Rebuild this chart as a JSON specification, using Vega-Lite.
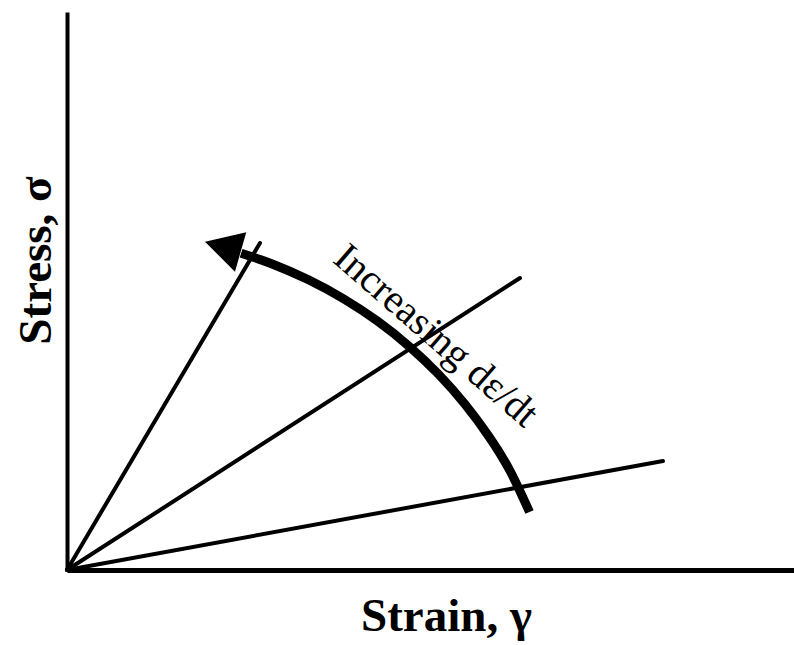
{
  "$schema": "https://vega.github.io/schema/vega-lite/v6.json",
  "width": 727,
  "height": 558,
  "autosize": {"type": "none"},
  "padding": {"left": 67, "top": 12, "right": 0, "bottom": 75},
  "background": "white",
  "config": {"view": {"stroke": null}},
  "datasets": {
    "rays": [
      {"ray": "steep", "step": 0, "x": 0, "y": 0},
      {"ray": "steep", "step": 1, "x": 193, "y": 327},
      {"ray": "middle", "step": 0, "x": 0, "y": 0},
      {"ray": "middle", "step": 1, "x": 453, "y": 292},
      {"ray": "shallow", "step": 0, "x": 0, "y": 0},
      {"ray": "shallow", "step": 1, "x": 596, "y": 109}
    ],
    "arc": [
      {"step": 0, "x": 462.5, "y": 58},
      {"step": 1, "x": 443.1, "y": 99.0},
      {"step": 2, "x": 422.0, "y": 133.4},
      {"step": 3, "x": 398.0, "y": 165.7},
      {"step": 4, "x": 371.3, "y": 196.0},
      {"step": 5, "x": 342.1, "y": 223.7},
      {"step": 6, "x": 310.6, "y": 248.8},
      {"step": 7, "x": 276.9, "y": 271.0},
      {"step": 8, "x": 241.5, "y": 290.2},
      {"step": 9, "x": 204.6, "y": 306.3},
      {"step": 10, "x": 174.1, "y": 316.8}
    ],
    "head": [{"x": 165.4, "y": 320.4}],
    "note": [{"x": 361, "y": 225, "label": "Increasing dε/dt"}]
  },
  "layer": [
    {
      "data": {"name": "rays"},
      "mark": {"type": "line", "color": "black", "strokeWidth": 4, "strokeCap": "round"},
      "encoding": {
        "x": {
          "field": "x", "type": "quantitative",
          "scale": {"domain": [0, 727], "nice": false, "zero": false},
          "axis": {
            "title": "Strain, γ", "grid": false, "ticks": false, "labels": false,
            "domainColor": "black", "domainWidth": 5,
            "titleFont": "Liberation Serif", "titleFontSize": 47, "titleFontWeight": "bold",
            "titleColor": "black", "titleX": 379, "titleY": 60,
            "titleAlign": "center", "titleBaseline": "alphabetic"
          }
        },
        "y": {
          "field": "y", "type": "quantitative",
          "scale": {"domain": [0, 558], "nice": false, "zero": false},
          "axis": {
            "title": "Stress, σ", "grid": false, "ticks": false, "labels": false,
            "domainColor": "black", "domainWidth": 4,
            "titleFont": "Liberation Serif", "titleFontSize": 47, "titleFontWeight": "bold",
            "titleColor": "black", "titleAngle": -90, "titleX": -17, "titleY": 248,
            "titleAlign": "center", "titleBaseline": "alphabetic"
          }
        },
        "detail": {"field": "ray"},
        "order": {"field": "step"}
      }
    },
    {
      "data": {"name": "arc"},
      "mark": {"type": "line", "color": "black", "strokeWidth": 9, "interpolate": "natural", "strokeCap": "butt"},
      "encoding": {
        "x": {"field": "x", "type": "quantitative"},
        "y": {"field": "y", "type": "quantitative"},
        "order": {"field": "step"}
      }
    },
    {
      "data": {"name": "head"},
      "mark": {
        "type": "point", "filled": true, "color": "black", "opacity": 1,
        "shape": "M0,-1L0.72,0.3L-0.72,0.3Z", "size": 3249, "angle": 286
      },
      "encoding": {
        "x": {"field": "x", "type": "quantitative"},
        "y": {"field": "y", "type": "quantitative"}
      }
    },
    {
      "data": {"name": "note"},
      "mark": {
        "type": "text", "font": "Liberation Serif", "fontSize": 40, "color": "black",
        "angle": 41, "align": "center", "baseline": "alphabetic"
      },
      "encoding": {
        "x": {"field": "x", "type": "quantitative"},
        "y": {"field": "y", "type": "quantitative"},
        "text": {"field": "label"}
      }
    }
  ]
}
